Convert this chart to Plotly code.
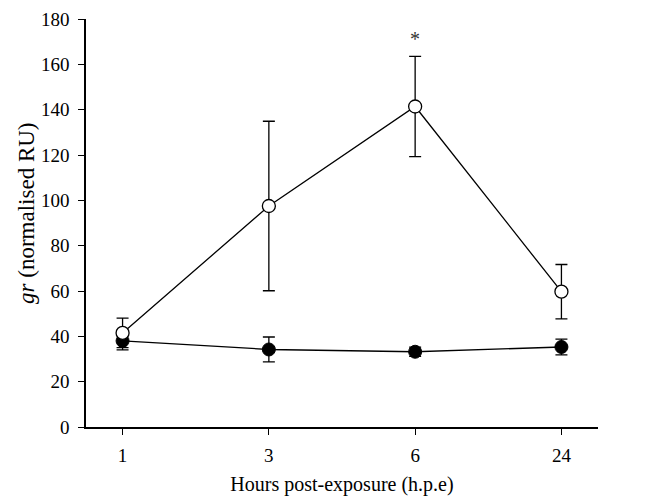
import plotly.graph_objects as go

# Sampling times (hours post-exposure)
hours = ["1", "3", "6", "24"]

# Exposed group (open circles)
exposed_mean = [41.5, 97.5, 141.4, 59.7]
exposed_err = [6.5, 37.4, 22.1, 12.0]

# Control group (filled circles)
control_mean = [38.0, 34.2, 33.2, 35.3]
control_err = [4.0, 5.5, 2.0, 3.5]

# Significance marker
sig_hour = "6"
sig_y = 171
sig_text = "*"

y_title = "<i>gr</i> (normalised RU)"
x_title = "Hours post-exposure (h.p.e)"

font_family = "Liberation Serif, Times New Roman, serif"

fig = go.Figure()

fig.add_trace(go.Scatter(
    x=hours, y=control_mean,
    mode="lines+markers",
    line=dict(color="black", width=1.3),
    marker=dict(symbol="circle", size=13, color="black",
                line=dict(color="black", width=1)),
    error_y=dict(type="data", array=control_err, visible=True,
                 color="black", thickness=1.3, width=6),
    showlegend=False,
))

fig.add_trace(go.Scatter(
    x=hours, y=exposed_mean,
    mode="lines+markers",
    line=dict(color="black", width=1.3),
    marker=dict(symbol="circle", size=13, color="white",
                line=dict(color="black", width=1.3)),
    error_y=dict(type="data", array=exposed_err, visible=True,
                 color="black", thickness=1.3, width=6),
    showlegend=False,
))

# category axes place annotations by index position
fig.add_annotation(
    x=hours.index(sig_hour), y=sig_y, text=sig_text, showarrow=False,
    xref="x", yref="y",
    font=dict(family=font_family, size=20, color="#333"),
)

# rotated y-axis title, placed a little above the plot centre
fig.add_annotation(
    x=0, xref="paper", xshift=-59, xanchor="center",
    y=94, yref="y", yanchor="middle",
    text=y_title, textangle=-90, showarrow=False,
    font=dict(family=font_family, size=23, color="black"),
)

fig.update_layout(
    width=659, height=501,
    margin=dict(l=86, r=61, t=19, b=74),
    paper_bgcolor="white", plot_bgcolor="white",
    font=dict(family=font_family, size=19, color="black"),
)

fig.update_xaxes(
    type="category", range=[-0.25, 3.25], automargin=False,
    showline=True, linecolor="black", linewidth=1.5,
    ticks="outside", ticklen=6, tickwidth=1.3, tickcolor="black",
    ticklabelstandoff=4,
    showgrid=False, zeroline=False,
    tickfont=dict(size=19),
    title=dict(text=x_title, standoff=12, font=dict(size=20)),
)

fig.update_yaxes(
    range=[0, 180], tickvals=list(range(0, 181, 20)), automargin=False,
    showline=True, linecolor="black", linewidth=1.5,
    ticks="outside", ticklen=6, tickwidth=1.3, tickcolor="black",
    ticklabelstandoff=5,
    showgrid=False, zeroline=False,
    tickfont=dict(size=19),
)

fig.write_html("out.html")
